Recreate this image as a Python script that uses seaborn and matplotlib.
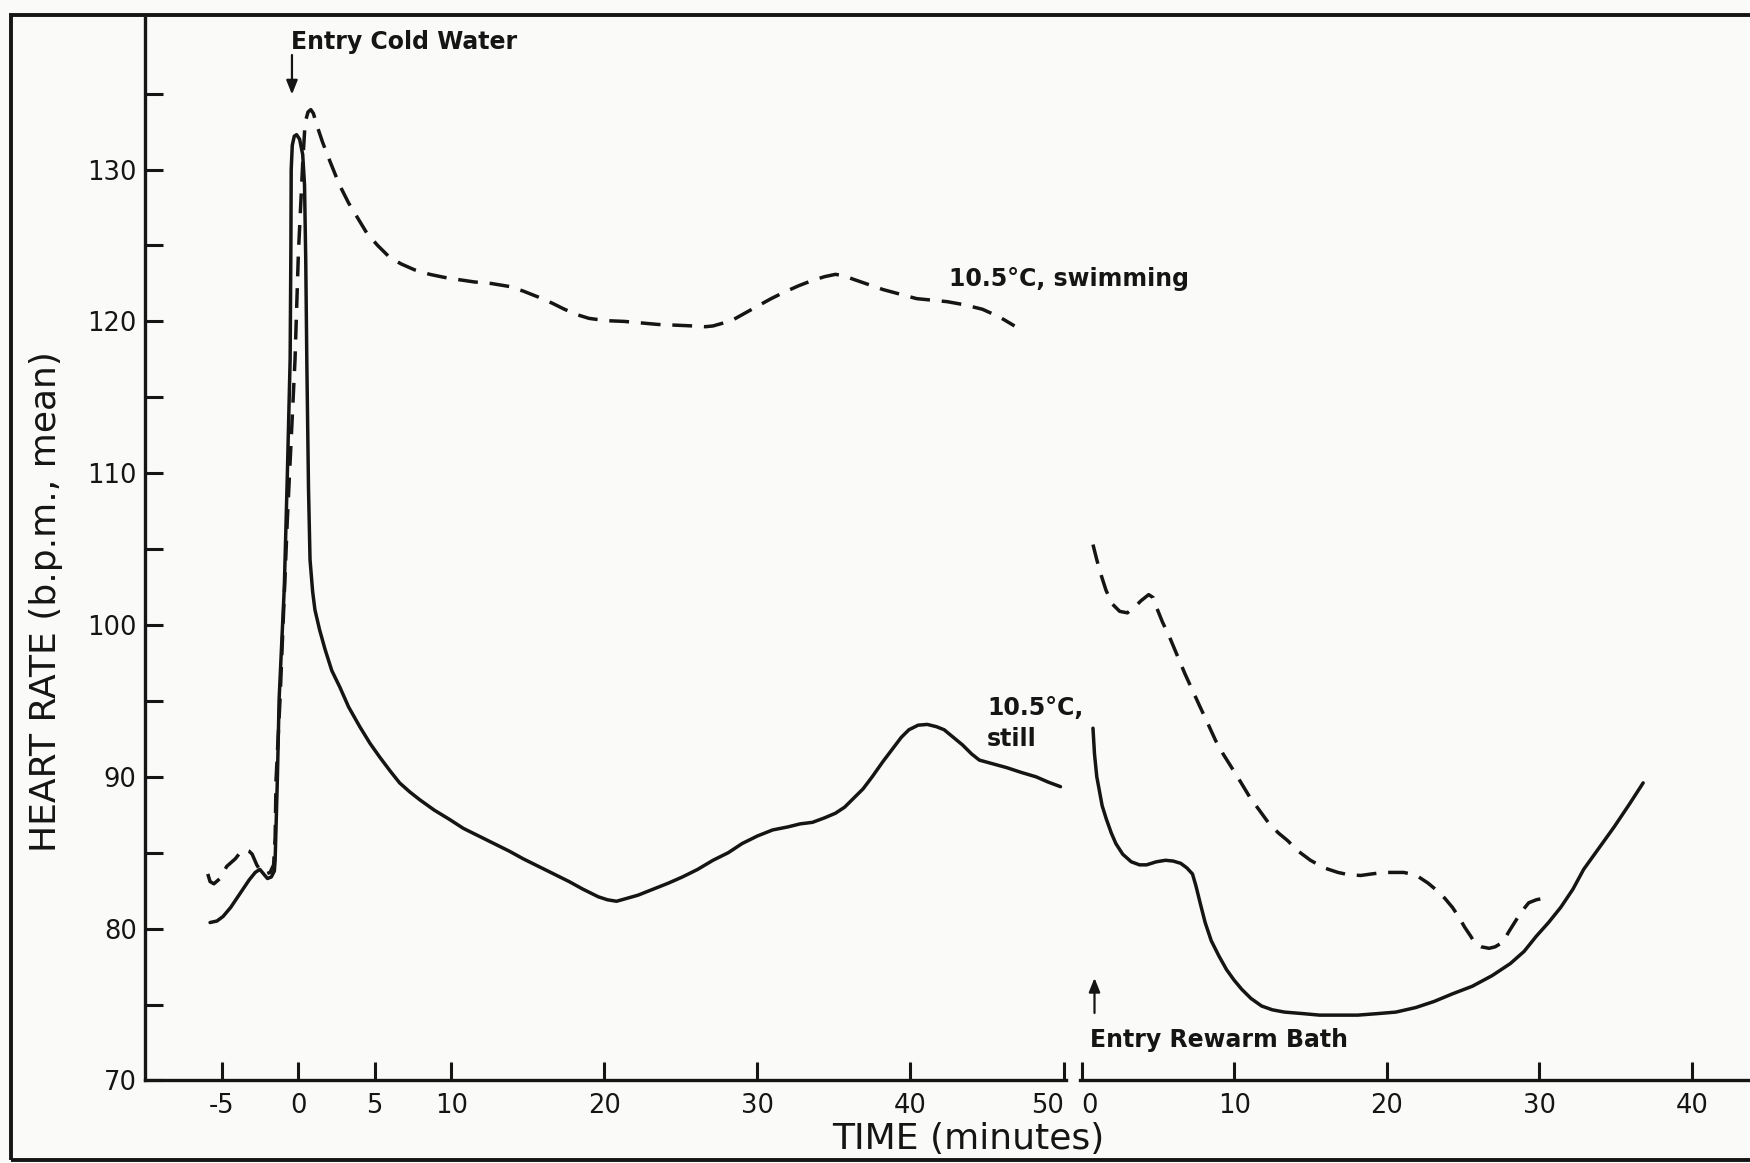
import matplotlib
matplotlib.use("Agg")
import matplotlib.pyplot as plt
import seaborn as sns
from matplotlib.patches import Rectangle

# ---- heart rate during cold-water immersion (minutes from entry) ----
cold_t_still = [-5.75, -5.3, -4.9, -4.4, -4.0, -3.6, -3.2, -2.8, -2.5, -2.25, -2.0, -1.75,
                -1.55, -1.5, -1.35, -1.24, -0.9, -0.7, -0.52, -0.47, -0.45, -0.38, -0.25,
                -0.1, 0.1, 0.3, 0.42, 0.5, 0.57, 0.68, 0.78, 0.95, 1.1, 1.4, 1.76, 2.2,
                2.73, 3.3, 4.03, 4.7, 5.33, 6.0, 6.63, 7.3, 7.93, 8.9, 9.88, 10.8, 11.8,
                12.8, 13.8, 14.7, 15.7, 16.7, 17.7, 18.6, 19.6, 20.2, 20.8, 21.5, 22.2,
                23.2, 24.2, 25.1, 26.1, 27.1, 28.1, 29.0, 30.0, 31.0, 32.0, 32.8, 33.6,
                34.4, 35.1, 35.7, 36.2, 36.9, 37.5, 38.2, 38.8, 39.4, 39.9, 40.5, 41.1,
                41.7, 42.2, 42.8, 43.4, 44.0, 44.5, 45.4, 46.3, 47.2, 48.2, 49.0, 49.8]
cold_still = [80.4, 80.5, 80.8, 81.4, 82.0, 82.6, 83.2, 83.7, 83.9, 83.6, 83.3, 83.4,
              83.8, 84.5, 90.0, 95.1, 102.5, 110.0, 117.5, 125.0, 130.0, 131.6, 132.2,
              132.3, 132.0, 131.0, 129.0, 124.0, 117.4, 109.0, 104.3, 102.2, 101.0, 99.7,
              98.4, 97.0, 95.9, 94.6, 93.3, 92.2, 91.3, 90.4, 89.6, 89.0, 88.5, 87.8,
              87.2, 86.6, 86.1, 85.6, 85.1, 84.6, 84.1, 83.6, 83.1, 82.6, 82.1, 81.9,
              81.8, 82.0, 82.2, 82.6, 83.0, 83.4, 83.9, 84.5, 85.0, 85.6, 86.1, 86.5,
              86.7, 86.9, 87.0, 87.3, 87.6, 88.0, 88.5, 89.2, 90.0, 91.0, 91.8, 92.6,
              93.1, 93.4, 93.45, 93.3, 93.1, 92.6, 92.1, 91.5, 91.1, 90.85, 90.6, 90.3,
              90.0, 89.65, 89.35]

cold_t_swim = [-5.9, -5.75, -5.5, -5.1, -4.66, -4.1, -3.75, -3.46, -3.2, -3.0, -2.7, -2.4,
               -2.1, -1.83, -1.6, -1.5, -1.44, -1.18, -0.7, -0.2, 0.02, 0.31, 0.46, 0.65,
               0.83, 1.0, 1.2, 1.6, 2.1, 2.7, 3.3, 3.9, 4.5, 5.2, 5.9, 6.7, 7.6, 8.6,
               9.55, 10.5, 11.5, 12.6, 13.8, 14.7, 15.7, 16.6, 17.4, 18.2, 19.0, 20.1,
               21.3, 22.4, 23.5, 24.7, 25.8, 26.6, 27.1, 27.8, 28.4, 29.2, 30.0, 30.9,
               31.7, 32.7, 33.6, 34.4, 35.1, 35.7, 36.2, 37.2, 38.2, 39.3, 40.4, 41.4,
               42.4, 43.5, 44.7, 45.8, 46.8]
cold_swim = [83.6, 83.1, 82.95, 83.3, 84.1, 84.6, 85.05, 85.2, 85.1, 84.9, 84.2, 83.7,
             83.6, 83.7, 84.2, 86.0, 89.8, 95.1, 107.0, 117.5, 124.5, 130.6, 133.1, 133.8,
             133.95, 133.7, 133.0, 131.8, 130.5, 129.0, 127.8, 126.8, 125.8, 125.0, 124.3,
             123.8, 123.4, 123.1, 122.9, 122.75, 122.6, 122.5, 122.3, 122.0, 121.6, 121.2,
             120.8, 120.45, 120.2, 120.05, 120.0, 119.9, 119.8, 119.75, 119.7, 119.65,
             119.7, 119.9, 120.1, 120.55, 121.0, 121.5, 121.9, 122.35, 122.7, 122.95,
             123.1, 123.0, 122.8, 122.45, 122.1, 121.8, 121.5, 121.4, 121.3, 121.1,
             120.8, 120.3, 119.7]

# ---- heart rate after entry into the rewarm bath ----
rewarm_t_still = [0.75, 0.85, 1.0, 1.13, 1.35, 1.63, 1.95, 2.25, 2.7, 3.26, 3.8, 4.26, 4.9,
                  5.5, 6.0, 6.5, 6.9, 7.27, 7.5, 7.77, 8.1, 8.5, 9.0, 9.5, 10.0, 10.5,
                  11.1, 11.8, 12.5, 13.3, 14.5, 15.6, 16.9, 18.1, 19.4, 20.6, 21.9, 23.1,
                  24.3, 25.6, 26.9, 28.1, 29.0, 29.8, 30.6, 31.4, 32.2, 32.9, 33.9, 34.9,
                  35.9, 36.8]
rewarm_still = [93.2, 91.5, 90.0, 89.3, 88.1, 87.2, 86.3, 85.6, 84.9, 84.4, 84.2, 84.2,
                84.4, 84.5, 84.45, 84.3, 84.0, 83.6, 82.8, 81.7, 80.4, 79.2, 78.2, 77.3,
                76.6, 76.0, 75.4, 74.9, 74.65, 74.5, 74.4, 74.3, 74.3, 74.3, 74.4, 74.5,
                74.8, 75.2, 75.7, 76.2, 76.9, 77.7, 78.5, 79.5, 80.4, 81.4, 82.6, 83.9,
                85.3, 86.7, 88.2, 89.6]

rewarm_t_swim = [0.75, 1.0, 1.25, 1.6, 2.0, 2.5, 3.0, 3.5, 3.9, 4.4, 4.7, 4.9, 5.3, 5.77,
                 6.27, 6.77, 7.27, 7.77, 8.28, 8.78, 9.28, 9.78, 10.4, 11.0, 11.65, 12.3,
                 12.9, 13.5, 14.2, 15.0, 15.9, 16.8, 17.5, 18.3, 19.0, 19.8, 20.4, 21.1,
                 21.6, 22.1, 22.7, 23.3, 23.8, 24.3, 24.7, 25.1, 25.5, 25.8, 26.2, 26.7,
                 27.1, 27.6, 28.0, 28.5, 28.9, 29.3, 29.8, 30.3]
rewarm_swim = [105.3, 104.3, 103.4, 102.3, 101.4, 100.9, 100.8, 101.2, 101.6, 102.0, 101.8,
               101.2, 100.2, 99.2, 98.0, 96.8, 95.7, 94.6, 93.5, 92.4, 91.5, 90.7, 89.7,
               88.7, 87.8, 86.9, 86.3, 85.8, 85.1, 84.5, 84.0, 83.7, 83.55, 83.5, 83.6,
               83.7, 83.7, 83.7, 83.6, 83.4, 83.0, 82.5, 82.0, 81.4, 80.8, 80.1, 79.5,
               79.0, 78.8, 78.7, 78.8, 79.1, 79.8, 80.6, 81.2, 81.7, 81.9, 82.0]

# ---- axis ticks ----
cold_xticks = [-5, 0, 5, 10, 20, 30, 40, 50]
cold_xlabels = ["-5", "0", "5", "10", "20", "30", "40", "50"]
rewarm_xticks = [0, 10, 20, 30, 40]
rewarm_xlabels = ["0", "10", "20", "30", "40"]
y_major = [70, 80, 90, 100, 110, 120, 130]
y_labels = ["70", "80", "90", "100", "110", "120", "130"]
y_minor = [75, 85, 95, 105, 115, 125, 135]

sns.set_theme(style="white")
plt.rcParams["font.family"] = ["DejaVu Sans"]

INK = "#151515"
PAPER = "#fafaf8"
LW = 2.5
DASH = (0, (5.7, 3.4))

W, H = 1750, 1163
fig = plt.figure(figsize=(W / 100, H / 100), dpi=100, facecolor=PAPER)

bottom = 1 - 1080.4 / H
height = (1080.4 - 17.8) / H
ax1 = fig.add_axes([145 / W, bottom, (1066 - 145) / W, height])
ax2 = fig.add_axes([1080 / W, bottom, (W - 1080) / W, height])

for ax in (ax1, ax2):
    ax.set_facecolor("none")

# cold-water phase
sns.lineplot(x=cold_t_still, y=cold_still, ax=ax1, color=INK, lw=LW,
             sort=False, estimator=None)
sns.lineplot(x=cold_t_swim, y=cold_swim, ax=ax1, color=INK, lw=LW,
             sort=False, estimator=None, linestyle=DASH)

# rewarm phase
sns.lineplot(x=rewarm_t_still, y=rewarm_still, ax=ax2, color=INK, lw=LW,
             sort=False, estimator=None)
sns.lineplot(x=rewarm_t_swim, y=rewarm_swim, ax=ax2, color=INK, lw=LW,
             sort=False, estimator=None, linestyle=DASH)

ax1.set_xlim(-10, 50.16)
ax2.set_xlim(-0.1, 43.8)
for ax in (ax1, ax2):
    ax.set_ylim(70, 140)
    ax.set_xlabel("")
    ax.set_ylabel("")
    for s in ("top", "right"):
        ax.spines[s].set_visible(False)
    ax.spines["bottom"].set_linewidth(2.4)
    ax.spines["bottom"].set_color(INK)

ax1.spines["left"].set_linewidth(2.4)
ax1.spines["left"].set_color(INK)
ax2.spines["left"].set_visible(False)

ax1.set_xticks(cold_xticks)
ax1.set_xticklabels(cold_xlabels)
ax1.set_yticks(y_major)
ax1.set_yticklabels(y_labels)
ax1.set_yticks(y_minor, minor=True)
ax2.set_xticks(rewarm_xticks)
ax2.set_xticklabels(rewarm_xlabels)
ax2.set_yticks([])

for ax in (ax1, ax2):
    ax.tick_params(axis="both", which="both", direction="in", length=13, width=2.2,
                   color=INK, labelcolor=INK, labelsize=18.5)
    ax.tick_params(axis="x", bottom=True, pad=9)
ax1.tick_params(axis="y", which="both", left=True, pad=6)
ax2.tick_params(axis="y", which="both", left=False, labelleft=False)

# labels either side of the axis break sit clear of each other
ax1.get_xticklabels()[-1].set_horizontalalignment("right")
ax2.get_xticklabels()[0].set_horizontalalignment("left")

# annotations
bold = dict(fontsize=17, fontweight="bold", color=INK)
arrow = dict(arrowstyle="-|>,head_length=0.7,head_width=0.28", color=INK, lw=1.6,
             shrinkA=0, shrinkB=0)

ax1.text(-0.46, 137.96, "Entry Cold Water", ha="left", va="baseline", **bold)
ax1.annotate("", xy=(-0.4, 134.95), xytext=(-0.4, 137.55), arrowprops=arrow)
ax1.text(42.5, 122.3, "10.5°C, swimming", ha="left", va="baseline", **bold)
ax1.text(45.0, 94.1, "10.5°C,", ha="left", va="baseline", **bold)
ax1.text(45.0, 92.05, "still", ha="left", va="baseline", **bold)

ax2.text(0.56, 72.2, "Entry Rewarm Bath", ha="left", va="baseline", **bold)
ax2.annotate("", xy=(0.85, 76.75), xytext=(0.85, 74.44), arrowprops=arrow)

# axis titles
fig.text(968 / W, 1 - 1149 / H, "TIME (minutes)", ha="center", va="baseline",
         fontsize=26, color=INK)
fig.text(46 / W, 1 - 602 / H, "HEART RATE (b.p.m., mean)", rotation=90,
         ha="center", va="center", fontsize=26, color=INK)

# outer frame of the figure
fig.patches.append(Rectangle((11 / W, 1 - 1160 / H), 1.2, (1160 - 15) / H,
                             transform=fig.transFigure, fill=False, ec=INK, lw=2.8))

fig.savefig("out.png", dpi=100, facecolor=PAPER)
